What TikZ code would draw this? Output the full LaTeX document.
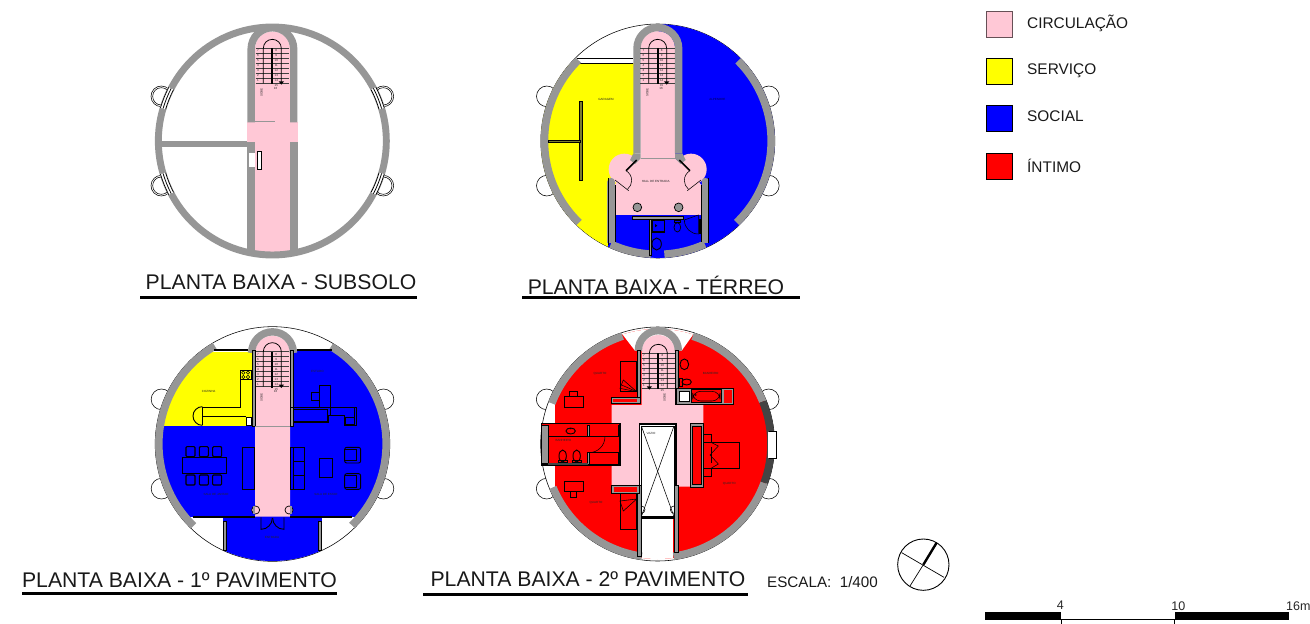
\documentclass[tikz,border=0pt]{standalone}
\usepackage{fontspec}
\setmainfont{Liberation Sans}
\definecolor{cpink}{HTML}{FFC8D6}
\definecolor{cgray}{HTML}{969696}
\definecolor{cdark}{HTML}{444444}
\definecolor{cyellow}{rgb}{1,1,0}
\tikzset{
  wall/.style={draw=cgray,line width=7.5pt},
  corr/.style={draw=cgray,line width=7.4pt},
  thin line/.style={draw=black,line width=.55pt},
  med line/.style={draw=black,line width=.9pt},
  heavy line/.style={draw=black,line width=1.5pt},
  gray block/.style={fill=cgray,draw=black,line width=.7pt},
  white block/.style={fill=white,draw=black,line width=.6pt},
  tiny label/.style={font=\fontsize{3}{3}\selectfont,text=black!70!gray,inner sep=0pt},
  title/.style={font=\fontsize{21.2}{23}\selectfont,inner sep=0pt,text=black!90},
  legend text/.style={font=\fontsize{15.4}{17}\selectfont,anchor=west,inner sep=0pt,text=black!90},
  swatch/.style={draw=black,line width=1pt},
  scale text/.style={font=\fontsize{12.5}{14}\selectfont,inner sep=0pt,text=black!85},
  plan/.style={x=1pt,y=1pt,shift={#1},xscale=1/3,yscale=-1/3},
}
% ring arc about (\cx,\cy); angles run clockwise on the page
\newcommand{\ringarc}[4]{\draw[#1] ({\cx+#2*cos(#3)},{\cy+#2*sin(#3)}) arc[start angle=#3,end angle=#4,radius=#2];}
% side bay: circle behind the main ring
\newcommand{\bays}[1]{\foreach \sx/\sy in {-1/-1,-1/1,1/-1,1/1}{\draw[thin line,fill=white] ({\cx+\sx*333},{\cy+\sy*134}) circle (#1);}}
% stair flight: cx, y of first tread, half width, arrow side, prefix
\newcommand{\flight}[5]{
  \foreach \k in {0,...,7}{\draw[draw=black!75,line width=.42pt] ({#1-#3},{#2+\k*15}) -- ({#1+#3},{#2+\k*15});}
  \draw[draw=black,line width=.75pt] ({#1-27},{#2+105}) -- ({#1-27},#2) arc[start angle=180,end angle=360,radius=27] -- ({#1+27},{#2+105});
  \fill[black] ({#1-3},#2) rectangle ({#1+3},{#2+108});
  \fill[black] ({#1+#4*27-8},{#2+99}) -- ({#1+#4*27+8},{#2+99}) -- ({#1+#4*27},{#2+109}) -- cycle;
  \foreach \k [evaluate=\k as \n using int(8-\k)] in {1,...,7}{\node[tiny label] (#5l\k) at ({#1-43},{#2+\k*15-8}) {\n};}
  \foreach \k [evaluate=\k as \n using int(7+\k)] in {1,...,8}{\node[tiny label] (#5r\k) at ({#1+12},{#2+\k*15-8}) {\n};}
}
\begin{document}
\begin{tikzpicture}[x=1pt,y=1pt]
\useasboundingbox (0,0) rectangle (1310,-624);

%% ===== SUBSOLO =====
\begin{scope}[plan={(140pt,-10pt)}]
\def\cx{397}\def\cy{393}
\foreach \sx/\sy in {-1/-1,-1/1,1/-1,1/1}{
  \draw[thin line,fill=white] ({\cx+\sx*333},{\cy+\sy*134}) circle (31);
  \draw[thin line] ({\cx+\sx*333},{\cy+\sy*134}) circle (26);}
\fill[white] (\cx,\cy) circle (342);
\fill[cpink] (345,117) arc[start angle=180,end angle=360,radius=52.5] -- (450,730) -- (345,730) -- cycle;
\fill[cpink] (322,337) rectangle (473,395);
\draw[draw=cgray,line width=6.9pt] (\cx,\cy) circle (342);
\draw[corr] (333.5,337) -- (333.5,117) arc[start angle=180,end angle=360,radius=63.8] -- (461.1,337);
\fill[cgray] (322,395) rectangle (345,725);
\fill[cgray] (450,395) rectangle (473,725);
\fill[cgray] (65,392) rectangle (322,412);
\foreach \a in {158,202,338,22}{
  \ringarc{white,line width=6pt}{342}{\a-5.5}{\a+5.5}
  \ringarc{draw=black,line width=.75pt}{334}{\a-5.5}{\a+5.5}
  \ringarc{draw=black,line width=.75pt}{342}{\a-5.5}{\a+5.5}
  \ringarc{draw=black,line width=.75pt}{350}{\a-5.5}{\a+5.5}}
\fill[white] (326,428) rectangle (345,472);
\draw[white block] (353,425) rectangle (364,478);
\draw[draw=cgray,line width=.6pt] (345,335) -- (405,335);
\flight{397}{115}{50}{1}{a}
\node[tiny label,rotate=90] (sobeA) at (365,248) {SOBE};
\node[tiny label] (nA) at (407,235) {16};
\end{scope}
\node[title] (t1) at (281,-282) {PLANTA BAIXA - SUBSOLO};
\coordinate (t1a) at (140,-297); \coordinate (t1b) at (417,-297);
\draw[black,line width=3pt] (t1a) -- (t1b);

%% ===== TERREO =====
\begin{scope}[plan={(520pt,-10pt)}]
\def\cx{413.5}\def\cy{393}
\bays{31}
\draw[thin line,fill=white] (\cx,\cy) circle (351);
\begin{scope}
\clip (\cx,\cy) circle (350.5);
\fill[blue] (413,30) rectangle (780,760);
\fill[cyellow] (50,160) rectangle (345,760);
\fill[blue] (265,615) rectangle (567,760);
\end{scope}
\draw[thin line] (172,145) -- (340,145);
\draw[med line] (172,160) -- (340,160);
% pink shaft and hall
\fill[cpink] (362,115) arc[start angle=180,end angle=360,radius=51.5] -- (465,445) -- (545,525) -- (545,615) -- (283,615) -- (283,525) -- (362,445) -- cycle;
\fill[cpink] (313,478) circle (47);
\fill[cpink] (513,478) circle (47);
% walls
\ringarc{wall}{340}{134}{225.5}
\ringarc{wall}{340}{-45}{46}
\draw[corr] (351,430) -- (351,115) arc[start angle=180,end angle=360,radius=62.5] -- (476,430);
\fill[cgray] (340,430) -- (362,430) -- (362,445) -- (345,462) -- (330,450) -- cycle;
\fill[cgray] (487,430) -- (465,430) -- (465,445) -- (482,462) -- (497,450) -- cycle;
\draw[black,line width=1.6pt] (350,450) -- (318,482);
\draw[black,line width=1.6pt] (478,450) -- (510,482);
\draw[thin line] (318,482) arc[start angle=-60,end angle=50,radius=34];
\draw[thin line] (510,482) arc[start angle=240,end angle=130,radius=34];
\draw[thin line] (285,510) -- (326,542);
\draw[thin line] (543,510) -- (502,542);
\draw[draw=cgray,line width=.6pt] (362,445) -- (465,445);
\draw[corr] (273,515) -- (273,700);
\draw[corr] (556,515) -- (556,700);
\fill[cgray] (273,515) circle (11.5);
\fill[cgray] (556,515) circle (11.5);
\ringarc{wall}{340}{114.5}{93.5}
\ringarc{wall}{340}{86.7}{65.5}
\draw[thin line] (264,505) -- (264,705);
\draw[thin line] (285,525) -- (285,695);
\draw[thin line] (544,525) -- (544,695);
\draw[thin line] (566,505) -- (566,700);
% garage walls
\draw[fill=cdark!70!cyellow,draw=black,line width=.5pt] (179,275) rectangle (187,512);
\draw[fill=cdark!70!cyellow,draw=black,line width=.5pt] (86,392) rectangle (180,398);
% services
\draw[gray block] (338,618) rectangle (490,627);
\draw[black,fill=cgray,line width=.5pt] (389,628) rectangle (394,735);
\draw[black,line width=1.2pt] (396,630) rectangle (434,666);
\fill[black] (405,642) -- (412,647) -- (405,652) -- cycle;
\draw[black,line width=.9pt] (410,702) ellipse (14 and 18);
\draw[black,line width=.7pt] (472,652) ellipse (10 and 14);
\draw[black,line width=.7pt] (462,630) rectangle (482,638);
\draw[thin line] (535,615) -- (535,672) arc[start angle=90,end angle=180,radius=42] -- cycle;
\draw[black,line width=1.2pt] (540,628) -- (540,672);
\draw[gray block] (352,592) circle (13);
\draw[gray block] (476,592) circle (13);
\flight{413}{115}{52}{1}{b}
\node[tiny label] (garagem) at (258,268) {GARAGEM};
\node[tiny label,text=black!70!blue] (alpendre) at (592,268) {ALPENDRE};
\node[tiny label] (hall) at (407,514) {HALL DE ENTRADA};
\node[tiny label,rotate=90] (sobeB) at (382,248) {SOBE};
\node[tiny label] (nB) at (423,235) {16};
\end{scope}
\node[title] (t2) at (656,-285) {PLANTA BAIXA - TÉRREO};
\coordinate (t2a) at (522,-297); \coordinate (t2b) at (800,-297);
\draw[black,line width=3pt] (t2a) -- (t2b);

%% ===== 1o PAVIMENTO =====
\begin{scope}[plan={(140pt,-320pt)}]
\def\cx{397.5}\def\cy{372}
\bays{31}
\draw[thin line,fill=white] (\cx,\cy) circle (352);
\begin{scope}
\clip (\cx,\cy) circle (335);
\fill[blue] (40,318) rectangle (760,592);
\fill[blue] (450,92) rectangle (760,318);
\fill[cyellow] (40,95) rectangle (335,318);
\end{scope}
\begin{scope}
\clip (\cx,\cy) circle (351);
\fill[blue] (250,592) rectangle (545,730);
\end{scope}
\fill[cpink] (345,100) arc[start angle=180,end angle=360,radius=52.5] -- (450,590) -- (345,590) -- cycle;
\ringarc{wall}{341}{134}{239.5}
\ringarc{wall}{341}{-59}{45.7}
\draw[corr] (335,92) -- (335,98) arc[start angle=180,end angle=360,radius=62.5] -- (460,92);
\draw[black,fill=cgray,line width=.6pt] (336,92) rectangle (345,318);
\draw[black,fill=cgray,line width=.6pt] (450,92) rectangle (459,318);
\draw[heavy line] (222,90) -- (325,90);
\draw[heavy line] (470,90) -- (575,90);
\draw[heavy line] (160,591) -- (345,591);
\draw[heavy line] (450,591) -- (636,591);
\draw[draw=cgray,line width=.7pt] (345,318) -- (450,318);
% kitchen
\draw[thin line] (187,262) -- (300,262) -- (300,150) -- (332,150);
\draw[thin line] (187,288) -- (318,288);
\draw[med line] (187,260) -- (187,316);
\draw[med line] (187,260) arc[start angle=270,end angle=90,radius=28];
\draw[thin line] (302,150) rectangle (333,178);
\foreach \p/\q in {310/158,324/158,310/171,324/171}{\draw[thin line] (\p,\q) circle (5);}
\draw[white block,line width=1pt] (319,292) rectangle (335,316);
% study
\draw[thin line] (538,197) rectangle (570,262);
\draw[thin line] (515,218) rectangle (537,240);
\draw[med line] (452,262) -- (650,262) -- (650,316) -- (612,316) -- (612,286) -- (566,286) -- (566,308) -- (459,308);
\draw[med line] (459,267) rectangle (562,303);
\draw[thin line] (571,262) -- (571,285);
\draw[thin line] (644,262) -- (644,316);
\draw[thin line] (616,292) rectangle (642,312);
% dining
\draw[thin line] (126,413) rectangle (258,461);
\foreach \p in {138,178,218}{
  \draw[draw=black,line width=1.1pt,rounded corners=1pt] (\p,380) rectangle (\p+27,410);
  \draw[draw=black,line width=1.1pt,rounded corners=1pt] (\p,465) rectangle (\p+27,495);}
% living
\draw[thin line] (308,382) rectangle (343,508);
\draw[thin line] (452,382) rectangle (493,508);
\draw[thin line] (460,382) -- (460,508);
\draw[thin line] (460,425) -- (493,425);
\draw[thin line] (460,467) -- (493,467);
\draw[med line] (537,415) rectangle (578,472);
\foreach \q in {382,461}{
  \draw[med line,rounded corners=2pt] (614,\q) rectangle (662,\q+47);
  \draw[thin line] (614,\q+6) -- (650,\q+6) -- (650,\q+40) -- (614,\q+40);}
% columns and door
\draw[gray block,fill=cpink] (347,570) circle (12);
\draw[gray block,fill=cpink] (447,570) circle (12);
\fill[cgray] (345,558) rectangle (340,582);
\fill[cgray] (450,558) rectangle (455,582);
\draw[med line] (363,592) -- (363,628) arc[start angle=90,end angle=0,radius=34];
\draw[med line] (432,592) -- (432,628) arc[start angle=90,end angle=180,radius=34];
\draw[gray block,line width=.4pt] (250,605) rectangle (258,690);
\draw[gray block,line width=.4pt] (536,605) rectangle (544,690);
\flight{397}{95}{50}{1}{c}
\node[tiny label] (cozinha) at (206,215) {COZINHA};
\node[tiny label] (estudo) at (532,155) {ESTUDO};
\node[tiny label] (jantar) at (228,523) {SALA DE JANTAR};
\node[tiny label] (estar) at (558,523) {SALA DE ESTAR};
\node[tiny label] (entrada) at (396,652) {ENTRADA};
\node[tiny label,rotate=90] (sobeC) at (365,232) {SOBE};
\node[tiny label] (nC) at (407,214) {16};
\end{scope}
\node[title] (t3) at (179.5,-580) {PLANTA BAIXA - 1º PAVIMENTO};
\coordinate (t3a) at (22,-593); \coordinate (t3b) at (337,-593);
\draw[black,line width=3pt] (t3a) -- (t3b);

%% ===== 2o PAVIMENTO =====
\begin{scope}[plan={(520pt,-320pt)}]
\def\cx{413}\def\cy{372}
\bays{31}
\draw[thin line,fill=white] (\cx,\cy) circle (351);
\begin{scope}
\clip (\cx,\cy) circle (345);
\fill[red] (105,0) rectangle (780,760);
\fill[white] (290,0) -- (305,40) -- (345,92) -- (485,92) -- (522,40) -- (540,0) -- cycle;
\fill[white] (365,595) rectangle (460,760);
\end{scope}
% pink cross
\fill[cpink] (365,95) arc[start angle=180,end angle=360,radius=50] -- (465,255) -- (550,255) -- (550,310) -- (510,310) -- (510,500) -- (468,500) -- (468,312) -- (358,312) -- (358,495) -- (275,495) -- (275,255) -- (365,255) -- cycle;
% ring
\ringarc{wall}{340}{201}{252}
\ringarc{wall}{340}{-72}{-22}
\ringarc{wall}{340}{157.5}{98}
\ringarc{wall}{340}{82}{20}
\ringarc{cdark,line width=7.5pt}{340}{-22}{20}
\draw[white block] (748,335) rectangle (770,415);
\fill[white] (745,336) rectangle (752,414);
% stair walls
\draw[corr] (355,90) -- (355,92) arc[start angle=180,end angle=360,radius=60] -- (475,90);
\draw[black,fill=cgray,line width=.6pt] (352,90) rectangle (362,250);
\draw[black,fill=cgray,line width=.6pt] (465,90) rectangle (475,252);
\draw[gray block] (275,232) rectangle (362,250);
\fill[red] (279,236) rectangle (350,246);
\draw[gray block] (468,205) rectangle (640,254);
% bath
\draw[white block,line width=1pt] (477,213) rectangle (507,245);
\draw[black,line width=1pt,fill=red] (513,209) rectangle (605,248);
\draw[thin line,rounded corners=8pt] (518,214) rectangle (600,243);
\fill[black] (527,225) circle (2.5);
\fill[red] (612,209) rectangle (637,250);
% wc upper
\draw[black,line width=.9pt] (493,133) ellipse (13 and 16);
\draw[black,line width=.9pt] (500,186) ellipse (14 and 9);
\draw[thin line] (478,174) rectangle (488,198);
% closet upper
\draw[thin line] (300,125) rectangle (350,215);
\draw[thin line] (350,215) -- (310,180) -- (300,205) -- cycle;
\draw[thin line] (350,215) -- (305,195);
% left bathroom
\draw[black,line width=1.2pt,fill=red] (64,311) rectangle (300,435);
\draw[gray block] (65,315) rectangle (85,430);
\draw[thin line] (85,348) -- (205,348);
\draw[gray block] (203,315) rectangle (208,350);
\draw[gray block] (203,398) rectangle (208,433);
\draw[black,line width=1pt] (208,350) -- (296,350);
\draw[black,line width=1pt] (208,398) -- (296,398);
\draw[black,line width=1pt] (296,315) -- (296,350);
\draw[black,line width=1pt] (296,398) -- (296,433);
\draw[thin line] (205,350) -- (255,350) arc[start angle=0,end angle=90,radius=48];
\fill[cdark] (85,430) rectangle (205,435);
\draw[med line] (152,333) ellipse (14 and 9);
\fill[black] (152,326) circle (2);
\foreach \p in {128,170}{
  \draw[med line] (\p,408) ellipse (11 and 18);
  \draw[thin line] (\p-13,420) rectangle (\p+13,428);}
% desks
\draw[thin line] (132,230) rectangle (190,262);
\draw[thin line] (148,213) rectangle (172,230);
\draw[thin line] (132,485) rectangle (190,515);
\draw[thin line] (150,515) rectangle (170,533);
% void
\draw[black,line width=1.2pt,fill=white] (358,312) rectangle (468,595);
\draw[thin line] (364,318) rectangle (462,590);
\draw[thin line] (364,318) -- (462,590);
\draw[thin line] (462,318) -- (364,590);
\draw[thin line] (364,558) arc[start angle=270,end angle=450,radius=11];
\draw[thin line] (462,558) arc[start angle=270,end angle=90,radius=11];
\draw[black,line width=1.4pt] (358,592) -- (468,592);
% lower walls
\draw[black,fill=cgray,line width=.6pt] (352,495) rectangle (364,708);
\draw[black,fill=cgray,line width=.6pt] (463,495) rectangle (475,696);
\draw[gray block] (275,495) rectangle (358,520);
\fill[red] (281,500) rectangle (350,516);
\draw[thin line] (300,520) rectangle (350,628);
\draw[thin line] (350,537) -- (310,573) -- (300,543) -- cycle;
% main bed
\draw[gray block] (510,311) rectangle (550,501);
\draw[black,line width=.8pt,fill=red] (516,320) rectangle (543,492);
\draw[thin line] (550,367) rectangle (658,445);
\draw[thin line] (550,342) rectangle (573,367);
\draw[thin line] (550,445) rectangle (573,470);
\draw[thin line] (573,367) -- (595,378) -- (570,405) -- (595,432) -- (573,445);
\draw[thin line] (573,380) -- (573,430);
\flight{415}{100}{50}{-1}{d}
\node[tiny label] (q1) at (240,160) {QUARTO};
\node[tiny label] (q2) at (228,547) {QUARTO};
\node[tiny label] (q3) at (628,490) {QUARTO};
\node[tiny label] (b1) at (572,160) {BANHEIRO};
\node[tiny label] (b2) at (130,362) {BANHEIRO};
\node[tiny label] (vazio) at (393,340) {VAZIO};
\node[tiny label,rotate=90] (sobeD) at (434,232) {SOBE};
\end{scope}
\node[title] (t4) at (588,-579) {PLANTA BAIXA - 2º PAVIMENTO};
\coordinate (t4a) at (423,-594); \coordinate (t4b) at (748,-594);
\draw[black,line width=3pt] (t4a) -- (t4b);

\node[font=\fontsize{15.2}{17}\selectfont,inner sep=0pt,text=black!90] (esc) at (822.5,-582) {ESCALA:\ \ 1/400};

%% compass
\begin{scope}[plan={(880pt,-530pt)}]
\coordinate (cc) at (130,104);
\coordinate (c1) at (65,68); \coordinate (c2) at (192,142);
\coordinate (c3) at (90,168); \coordinate (c4) at (170,38);
\draw[black,line width=.9pt] (cc) circle (77);
\draw[black,line width=.7pt] (c1) -- (c2);
\draw[black,line width=.7pt] (cc) -- (c3);
\draw[black,line width=2.4pt] (cc) -- (c4);
%% scale bar
\fill[black] (316,245) rectangle (544,270);
\fill[black] (884,245) rectangle (1226,270);
\draw[black,line width=.7pt] (544,268) -- (884,268);
\draw[black,line width=.7pt] (544,270) -- (544,282);
\draw[black,line width=.7pt] (884,270) -- (884,282);
\node[scale text] (s4) at (541,225) {4};
\node[scale text] (s10) at (895,229) {10};
\node[scale text] (s16) at (1255,229) {16m};
\end{scope}

%% legend
\draw[swatch,fill=cpink,draw=black!60!cpink] (986,-11) rectangle (1012,-37);
\draw[swatch,fill=cyellow] (986,-58) rectangle (1012,-84);
\draw[swatch,fill=blue] (986,-105) rectangle (1012,-131.5);
\draw[swatch,fill=red] (986,-153) rectangle (1012,-179);
\node[legend text] (l1) at (1027,-23.5) {CIRCULAÇÃO};
\node[legend text] (l2) at (1027,-71) {SERVIÇO};
\node[legend text] (l3) at (1027,-116.5) {SOCIAL};
\node[legend text] (l4) at (1027,-165.5) {ÍNTIMO};
\end{tikzpicture}
\end{document}
